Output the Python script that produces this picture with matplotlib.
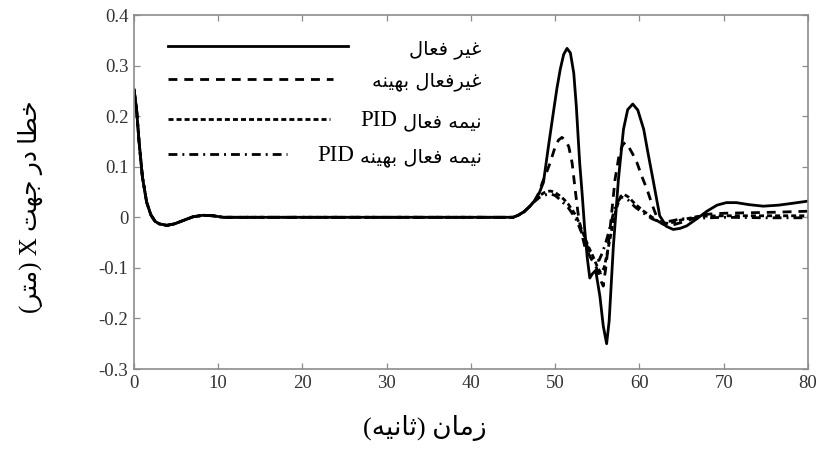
import matplotlib
matplotlib.use("Agg")
import matplotlib.pyplot as plt
from matplotlib.lines import Line2D

# ---------------- data ----------------
t_early = [0.0, 0.3, 0.6, 1.0, 1.5, 2.0, 2.5, 3.0, 3.9, 4.8, 5.9, 7.0, 8.2, 9.4, 10.6, 12.0, 20.0, 30.0, 40.0, 44.5]
v_early = [0.253, 0.215, 0.15, 0.08, 0.03, 0.005, -0.008, -0.013, -0.016, -0.013, -0.006, 0.001, 0.004,
           0.003, 0.0, 0.0, 0.0, 0.0, 0.0, 0.0]

t_passive = [45.0, 45.6, 46.3, 47.0, 47.6, 48.1, 48.6, 49.2, 49.8, 50.2, 50.6, 51.0, 51.4, 51.8, 52.2,
             52.5, 52.9, 53.2, 53.5, 53.8, 54.1, 54.4, 54.8, 55.3, 55.7, 56.1, 56.4, 56.9, 57.5, 58.1,
             58.6, 59.2, 59.8, 60.5, 61.0, 61.6, 62.4, 63.2, 64.0, 64.8, 65.6, 66.8, 68.0, 69.2, 70.3,
             71.5, 73.0, 74.7, 76.5, 78.3, 80.0]
v_passive = [0.0, 0.004, 0.011, 0.022, 0.034, 0.048, 0.069, 0.141, 0.21, 0.255, 0.293, 0.322, 0.334, 0.325,
             0.285, 0.22, 0.108, 0.045, -0.024, -0.08, -0.12, -0.112, -0.105, -0.156, -0.215, -0.25, -0.205,
             -0.057, 0.075, 0.174, 0.213, 0.224, 0.212, 0.174, 0.128, 0.075, 0.003, -0.018, -0.024, -0.022,
             -0.017, -0.003, 0.012, 0.024, 0.029, 0.029, 0.025, 0.022, 0.024, 0.028, 0.032]

t_passive_opt = [45.0, 45.6, 46.3, 47.0, 47.6, 48.1, 48.5, 49.0, 49.4, 50.0, 50.4, 50.8, 51.2, 51.6, 52.0,
                 52.4, 52.7, 53.1, 53.5, 54.2, 54.9, 55.4, 55.7, 56.0, 56.5, 57.1, 57.6, 58.0, 58.3, 58.7,
                 59.2, 59.7, 60.3, 60.9, 61.5, 62.0, 62.6, 63.2, 64.0, 65.6, 67.0, 68.0, 70.0, 73.0, 76.0, 80.0]
v_passive_opt = [0.0, 0.004, 0.011, 0.022, 0.034, 0.05, 0.07, 0.09, 0.108, 0.14, 0.153, 0.158, 0.152, 0.14,
                 0.108, 0.05, 0.009, -0.03, -0.057, -0.08, -0.1, -0.125, -0.136, -0.1, -0.024, 0.075, 0.125,
                 0.143, 0.148, 0.14, 0.125, 0.108, 0.08, 0.055, 0.025, 0.003, -0.012, -0.017, -0.015, -0.007,
                 0.001, 0.006, 0.008, 0.009, 0.01, 0.012]

t_pid = [45.0, 45.6, 46.3, 47.0, 47.6, 48.1, 48.6, 49.0, 49.4, 49.9, 50.5, 51.0, 51.5, 52.0, 52.5, 53.0,
         53.5, 54.0, 54.5, 55.0, 55.4, 55.8, 56.3, 56.7, 57.0, 57.4, 57.8, 58.2, 58.7, 59.5, 60.5, 61.5,
         62.5, 63.5, 65.0, 67.0, 70.0, 75.0, 80.0]
v_pid = [0.0, 0.004, 0.011, 0.022, 0.033, 0.042, 0.048, 0.051, 0.052, 0.05, 0.043, 0.036, 0.027, 0.015,
         0.002, -0.018, -0.04, -0.06, -0.078, -0.098, -0.11, -0.1, -0.06, -0.025, 0.0, 0.025, 0.042, 0.045,
         0.04, 0.026, 0.012, 0.0, -0.011, -0.012, -0.005, 0.002, 0.003, 0.003, 0.003]

t_pid_opt = [45.0, 45.6, 46.3, 47.0, 47.6, 48.1, 48.6, 49.0, 49.5, 50.0, 50.5, 51.0, 51.5, 52.0, 52.5,
             53.0, 53.5, 54.0, 54.4, 54.8, 55.2, 55.6, 56.0, 56.5, 57.0, 57.4, 57.8, 58.2, 58.6, 59.5,
             60.5, 61.5, 62.5, 63.5, 65.0, 70.0, 75.0, 80.0]
v_pid_opt = [0.0, 0.004, 0.011, 0.022, 0.032, 0.039, 0.043, 0.045, 0.046, 0.043, 0.036, 0.028, 0.02, 0.008,
             -0.005, -0.025, -0.045, -0.065, -0.08, -0.086, -0.085, -0.07, -0.05, -0.02, 0.015, 0.03, 0.04,
             0.039, 0.035, 0.02, 0.008, -0.003, -0.01, -0.008, -0.003, 0.0, -0.001, -0.001]

series_labels = ["غیر فعال", "غیرفعال بهینه", "نیمه فعال PID", "نیمه فعال بهینه PID"]
x_ticks = [0, 10, 20, 30, 40, 50, 60, 70, 80]
y_ticks = [-0.3, -0.2, -0.1, 0.0, 0.1, 0.2, 0.3, 0.4]
y_tick_labels = ["-0.3", "-0.2", "-0.1", "0", "0.1", "0.2", "0.3", "0.4"]
x_label = "زمان (ثانیه)"
y_label = "خطا در جهت X (متر)"

# ---------------- simple Persian shaping for display ----------------
FORMS = {
    'ا': ('\uFE8D', '\uFE8E', None, None),
    'ب': ('\uFE8F', '\uFE90', '\uFE91', '\uFE92'),
    'ت': ('\uFE95', '\uFE96', '\uFE97', '\uFE98'),
    'ث': ('\uFE99', '\uFE9A', '\uFE9B', '\uFE9C'),
    'ج': ('\uFE9D', '\uFE9E', '\uFE9F', '\uFEA0'),
    'خ': ('\uFEA5', '\uFEA6', '\uFEA7', '\uFEA8'),
    'د': ('\uFEA9', '\uFEAA', None, None),
    'ر': ('\uFEAD', '\uFEAE', None, None),
    'ز': ('\uFEAF', '\uFEB0', None, None),
    'ط': ('\uFEC1', '\uFEC2', '\uFEC3', '\uFEC4'),
    'ع': ('\uFEC9', '\uFECA', '\uFECB', '\uFECC'),
    'غ': ('\uFECD', '\uFECE', '\uFECF', '\uFED0'),
    'ف': ('\uFED1', '\uFED2', '\uFED3', '\uFED4'),
    'ل': ('\uFEDD', '\uFEDE', '\uFEDF', '\uFEE0'),
    'م': ('\uFEE1', '\uFEE2', '\uFEE3', '\uFEE4'),
    'ن': ('\uFEE5', '\uFEE6', '\uFEE7', '\uFEE8'),
    'ه': ('\uFEE9', '\uFEEA', '\uFEEB', '\uFEEC'),
    'ی': ('\uFBFC', '\uFBFD', '\uFBFE', '\uFBFF'),
}


def shape(s):
    out = []
    n = len(s)
    for i, ch in enumerate(s):
        if ch not in FORMS:
            out.append(ch)
            continue
        prev_j = i > 0 and s[i - 1] in FORMS and FORMS[s[i - 1]][2] is not None
        next_j = i < n - 1 and s[i + 1] in FORMS and FORMS[ch][2] is not None
        iso, fin, ini, med = FORMS[ch]
        if prev_j and next_j:
            out.append(med)
        elif prev_j:
            out.append(fin)
        elif next_j:
            out.append(ini)
        else:
            out.append(iso)
    return ''.join(out)


def visual(s):
    shaped = shape(s)
    tokens = []
    buf = ''
    for ch in shaped:
        if ch.isascii() and ch.isalnum():
            buf += ch
        else:
            if buf:
                tokens.append(buf)
                buf = ''
            tokens.append(ch)
    if buf:
        tokens.append(buf)
    mirror = {'(': ')', ')': '('}
    return ''.join(mirror.get(tk, tk) for tk in reversed(tokens))


# ---------------- figure ----------------
fig = plt.figure(figsize=(8.26, 4.51), dpi=100)
ax = fig.add_axes([0.1622, 0.1818, 0.816, 0.7849])

lw = 2.0
styles = [
    dict(linestyle='-'),
    dict(linestyle=(0, (3.2, 2.5))),
    dict(linestyle=(0, (1.8, 1.1))),
    dict(linestyle=(0, (3.2, 1.8, 0.7, 1.8))),
]
series = [
    (t_passive, v_passive),
    (t_passive_opt, v_passive_opt),
    (t_pid, v_pid),
    (t_pid_opt, v_pid_opt),
]
for (t, v), st in zip(series, styles):
    ax.plot(t_early + t, v_early + v, color='black', lw=lw, **st)

ax.set_xlim(0, 80)
ax.set_ylim(-0.3, 0.4)
ax.set_xticks(x_ticks)
ax.set_xticklabels([str(x) for x in x_ticks])
ax.set_yticks(y_ticks)
ax.set_yticklabels(y_tick_labels)
for sp in ax.spines.values():
    sp.set_color('#8c8c8c')
    sp.set_linewidth(1.2)
ax.tick_params(direction='in', top=True, right=True, length=4, width=0.9,
               color='#8c8c8c', labelcolor='#333333', labelsize=13.5, pad=4)
for lab in ax.get_xticklabels() + ax.get_yticklabels():
    lab.set_fontfamily('Liberation Serif')

# legend drawn manually (handle left, right-aligned Persian text, PID in serif)
fam = ['Liberation Serif', 'DejaVu Sans']
leg_y = [0.912, 0.819, 0.705, 0.606]
leg_x1 = [0.3175, 0.295, 0.291, 0.227]
text_right = 0.516
for i, st in enumerate(styles):
    ax.add_line(Line2D([0.0504, leg_x1[i]], [leg_y[i], leg_y[i]], transform=ax.transAxes,
                       color='black', lw=lw, **st))
    words = series_labels[i].split(' ')
    latin = ' '.join(w for w in words if w.isascii())
    persian = ' '.join(w for w in words if not w.isascii())
    tp = ax.text(text_right, leg_y[i] - 0.008, visual(persian), transform=ax.transAxes,
                 ha='right', va='center', fontsize=14, family='DejaVu Sans', color='black')
    if latin:
        ax.annotate(latin, xy=(0, 0.5), xycoords=tp, xytext=(-4, 1), textcoords='offset points',
                    ha='right', va='center', fontsize=16.5, family='Liberation Serif', color='black')

fig.text(425 / 826, 1 - 428 / 451, visual(x_label), ha='center', va='center',
         fontsize=19, family=fam, color='black')
fig.text(30 / 826, 1 - 207 / 451, visual(y_label), ha='center', va='center',
         rotation=90, fontsize=18, family=fam, color='black')

fig.savefig('out.png', dpi=100)
